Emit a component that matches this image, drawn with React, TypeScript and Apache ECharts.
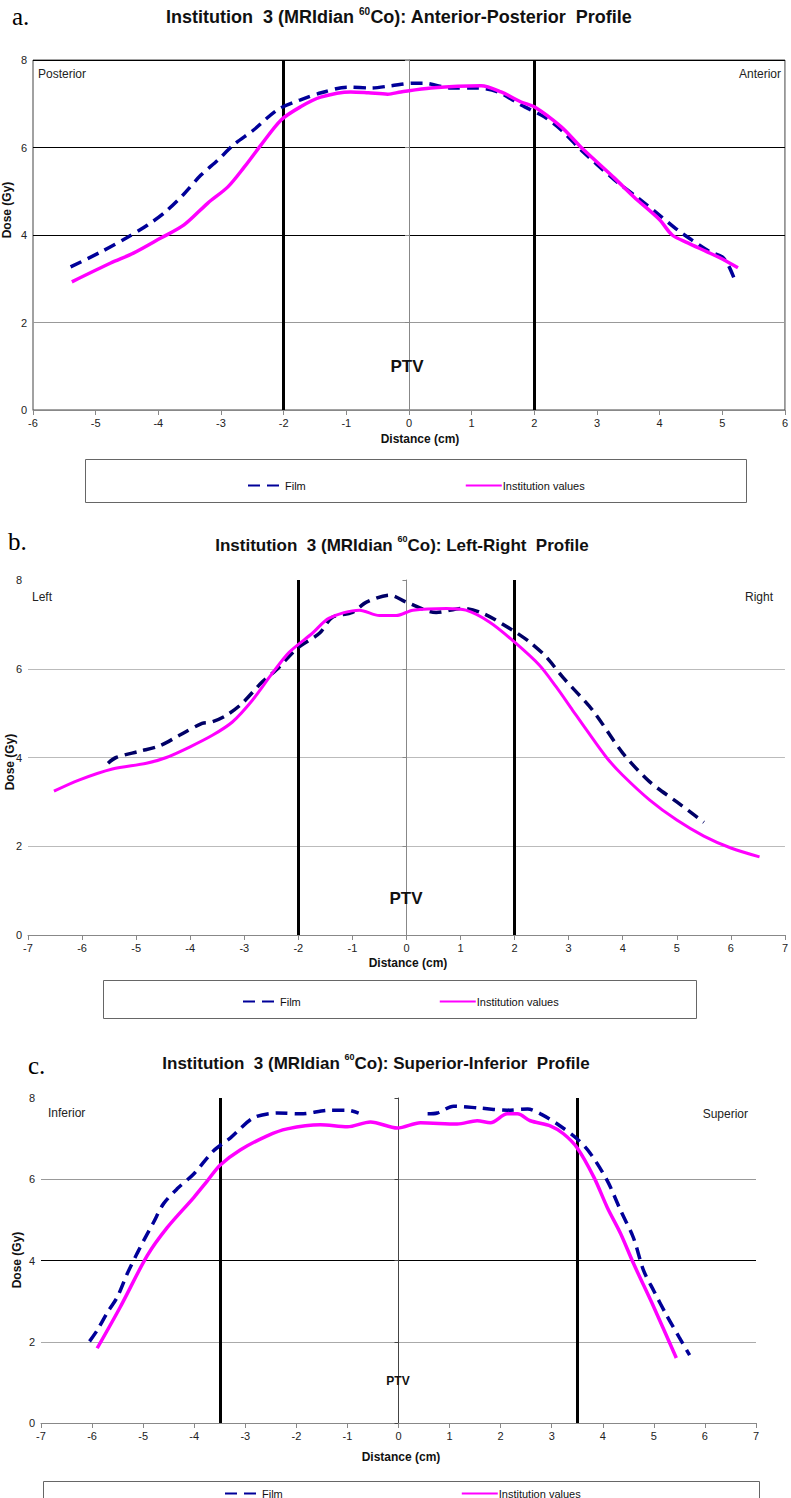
import React, { useEffect, useRef } from "react";
import * as echarts from "echarts";

// ---------- Data (distance in cm, dose in Gy) ----------
const apFilm: [number, number][] = [
  [-5.4, 3.27], [-4.92, 3.61], [-4.49, 3.95], [-4.17, 4.23], [-3.91, 4.5], [-3.61, 4.91],
  [-3.32, 5.37], [-3.05, 5.71], [-2.8, 6.06], [-2.48, 6.4], [-2.1, 6.86], [-1.73, 7.09],
  [-1.4, 7.25], [-0.98, 7.38], [-0.6, 7.36], [-0.29, 7.41], [0.08, 7.47], [0.24, 7.47],
  [0.67, 7.36], [1.1, 7.36], [1.42, 7.27], [1.79, 6.97], [2.16, 6.7], [2.43, 6.4],
  [2.75, 5.94], [3.28, 5.26], [3.66, 4.84], [4.0, 4.45], [4.3, 4.1], [4.5, 3.9],
  [4.8, 3.62], [5.0, 3.5], [5.1, 3.3], [5.2, 2.97],
];
const apInst: [number, number][] = [
  [-5.38, 2.93], [-4.76, 3.36], [-4.39, 3.59], [-3.96, 3.93], [-3.59, 4.23], [-3.21, 4.73],
  [-2.89, 5.1], [-2.63, 5.55], [-2.36, 6.06], [-2.04, 6.63], [-1.73, 6.93], [-1.41, 7.15],
  [-0.93, 7.27], [-0.65, 7.25], [-0.34, 7.22], [-0.13, 7.27], [0.35, 7.36], [1.15, 7.41],
  [1.47, 7.27], [1.79, 7.04], [2.0, 6.93], [2.43, 6.47], [2.75, 6.0], [3.28, 5.3],
  [3.59, 4.87], [4.0, 4.35], [4.2, 4.0], [4.45, 3.82], [4.75, 3.62], [5.0, 3.45], [5.25, 3.25],
];
const lrFilm: [number, number][] = [
  [-5.52, 3.87], [-5.37, 4.0], [-4.94, 4.14], [-4.57, 4.26], [-4.2, 4.5], [-3.78, 4.77],
  [-3.6, 4.8], [-3.33, 4.95], [-3.04, 5.22], [-2.67, 5.7], [-2.41, 5.97], [-2.02, 6.46],
  [-1.61, 6.8], [-1.37, 7.16], [-1.0, 7.27], [-0.74, 7.5], [-0.31, 7.66], [0.0, 7.5],
  [0.55, 7.27], [1.04, 7.36], [1.41, 7.25], [1.96, 6.87], [2.28, 6.6], [2.59, 6.26],
  [2.89, 5.81], [3.44, 5.07], [4.0, 4.1], [4.5, 3.45], [5.0, 3.0], [5.5, 2.54],
];
const lrInst: [number, number][] = [
  [-6.52, 3.24], [-6.06, 3.49], [-5.44, 3.74], [-4.81, 3.87], [-4.44, 4.0], [-4.02, 4.23],
  [-3.59, 4.5], [-3.22, 4.8], [-2.85, 5.29], [-2.48, 5.9], [-2.17, 6.37], [-1.74, 6.8],
  [-1.43, 7.14], [-0.87, 7.32], [-0.5, 7.2], [-0.19, 7.2], [0.12, 7.32], [0.74, 7.36],
  [1.1, 7.32], [1.54, 7.05], [2.0, 6.6], [2.46, 6.08], [2.77, 5.59], [3.07, 5.07],
  [3.33, 4.62], [3.7, 4.0], [4.0, 3.6], [4.5, 3.04], [5.0, 2.59], [5.5, 2.23],
  [6.0, 1.96], [6.53, 1.76],
];
const siFilm: ([number, number] | null)[] = [
  [-6.05, 2.01], [-5.9, 2.28], [-5.7, 2.72], [-5.51, 3.09], [-5.31, 3.68], [-5.12, 4.17],
  [-4.99, 4.49], [-4.8, 4.93], [-4.6, 5.4], [-4.33, 5.77], [-4.01, 6.13], [-3.62, 6.7],
  [-3.29, 7.02], [-2.84, 7.51], [-2.37, 7.63], [-1.92, 7.61], [-1.33, 7.7], [-1.0, 7.7],
  [-0.78, 7.63], null, [0.57, 7.61], [0.76, 7.63], [1.08, 7.8], [1.6, 7.75], [2.13, 7.7],
  [2.53, 7.73], [2.78, 7.61], [3.11, 7.36], [3.5, 6.99], [3.76, 6.63], [4.09, 5.96],
  [4.35, 5.23], [4.6, 4.56], [4.8, 3.75], [5.0, 3.25], [5.25, 2.65], [5.5, 2.1], [5.7, 1.67],
];
const siInst: [number, number][] = [
  [-5.9, 1.84], [-5.45, 2.85], [-4.92, 4.12], [-4.53, 4.81], [-4.01, 5.55], [-3.75, 5.95],
  [-3.49, 6.35], [-3.1, 6.72], [-2.57, 7.07], [-2.18, 7.24], [-1.53, 7.34], [-1.0, 7.29],
  [-0.55, 7.41], [-0.02, 7.26], [0.43, 7.39], [1.15, 7.36], [1.54, 7.44], [1.8, 7.39],
  [2.13, 7.61], [2.33, 7.61], [2.58, 7.44], [2.98, 7.31], [3.23, 7.12], [3.5, 6.77],
  [3.83, 6.04], [4.09, 5.3], [4.35, 4.66], [4.6, 3.93], [5.0, 2.85], [5.44, 1.6],
];

const seriesNames = ["Film", "Institution values"];
const panelTitles = ["Anterior-Posterior", "Left-Right", "Superior-Inferior"];
const panelLetters = ["a.", "b.", "c."];
const sideLabels = [["Posterior", "Anterior"], ["Left", "Right"], ["Inferior", "Superior"]];
const ptvEdges = [[-2, 2], [-2, 2], [-3.5, 3.5]];
const xRanges = [[-6, 6], [-7, 7], [-7, 7]];
const yTicks = { min: 0, max: 8, interval: 2 };

const SANS = "'Liberation Sans', Arial, Helvetica, sans-serif";
const SERIF = "'Liberation Serif', 'Times New Roman', serif";

export default function App() {
  const ref = useRef<HTMLDivElement>(null);
  useEffect(() => {
    if (!ref.current) return;
    const chart = echarts.init(ref.current, null, { renderer: "svg" });

    const grids = [
      { left: 33, top: 60, width: 752, height: 350, show: true, borderColor: "#444", borderWidth: 1, backgroundColor: "transparent" },
      { left: 28, top: 580, width: 757, height: 355 },
      { left: 41, top: 1098, width: 715, height: 325 },
    ];
    const splitColors = [
      ["#888", "#999", "#000", "#000", "#000"],
      ["#888", "#bbb", "#bbb", "#bbb", "rgba(0,0,0,0)"],
      ["#888", "#aaa", "#000", "#999", "rgba(0,0,0,0)"],
    ];
    const yAxisColors = ["#888", "#888", "#444"];

    const xAxes = xRanges.map((r, i) => ({
      type: "value",
      gridIndex: i,
      min: r[0],
      max: r[1],
      interval: 1,
      axisLine: { show: true, onZero: true, lineStyle: { color: "#888", width: 1 } },
      axisTick: { show: true, length: 5, lineStyle: { color: "#888" } },
      axisLabel: { fontSize: 11, color: "#222", margin: 7, fontFamily: SANS },
      splitLine: { show: false },
    }));
    const yAxes = [0, 1, 2].map((i) => ({
      type: "value",
      gridIndex: i,
      min: yTicks.min,
      max: yTicks.max,
      interval: yTicks.interval,
      axisLine: { show: true, onZero: true, lineStyle: { color: yAxisColors[i], width: 1 } },
      axisTick: { show: true, length: 4, lineStyle: { color: yAxisColors[i] } },
      axisLabel: { fontSize: 11, color: "#222", margin: 6, fontFamily: SANS, hideOverlap: false },
      splitLine: { show: true, lineStyle: { color: splitColors[i], width: 1 } },
    }));

    const filmData = [apFilm, lrFilm, siFilm];
    const instData = [apInst, lrInst, siInst];
    const filmColors = ["#000099", "#000066", "#000099"];
    const series: any[] = [];
    [0, 1, 2].forEach((i) => {
      series.push({
        type: "line",
        name: seriesNames[0],
        xAxisIndex: i,
        yAxisIndex: i,
        data: filmData[i],
        symbol: "none",
        smooth: 0.3,
        connectNulls: false,
        color: filmColors[i],
        lineStyle: { color: filmColors[i], width: 3.5, type: [12, 7] },
        z: 3,
        markLine: {
          silent: true,
          symbol: ["none", "none"],
          label: { show: false },
          lineStyle: { color: "#000", width: 3, type: "solid" },
          data: ptvEdges[i].map((v) => ({ xAxis: v })),
          z: 2,
        },
      });
      series.push({
        type: "line",
        name: seriesNames[1],
        xAxisIndex: i,
        yAxisIndex: i,
        data: instData[i],
        symbol: "none",
        smooth: 0.3,
        color: "#ff00ff",
        lineStyle: { color: "#ff00ff", width: i === 1 ? 3 : 3.5, type: "solid" },
        z: 4,
      });
    });

    const legendPos = [
      { left: 242, top: 475, itemGap: 159 },
      { left: 237, top: 991, itemGap: 138 },
      { left: 219, top: 1483, itemGap: 178 },
    ];
    const legends = legendPos.map((p) => ({
      left: p.left,
      top: p.top,
      itemGap: p.itemGap,
      itemWidth: 36,
      itemHeight: 12,
      selectedMode: false,
      data: seriesNames,
      itemStyle: { color: "rgba(0,0,0,0)", borderColor: "rgba(0,0,0,0)", borderWidth: 0, opacity: 0 },
      textStyle: { fontSize: 11, color: "#111", fontFamily: SANS, padding: [0, 0, 0, -4] },
    }));

    const titleCenters = [
      { x: 399, y: 17, size: 18 },
      { x: 402, y: 545, size: 17 },
      { x: 376, y: 1063, size: 17 },
    ];
    const letterPos = [
      { x: 12, y: 16 },
      { x: 8, y: 541 },
      { x: 28, y: 1065 },
    ];
    const sidePos = [
      { l: [38, 74], r: [781, 74] },
      { l: [32, 597], r: [773, 597] },
      { l: [48, 1113], r: [748, 1114] },
    ];
    const ptvPos = [
      { x: 407, y: 366, size: 17 },
      { x: 406, y: 898, size: 17 },
      { x: 398, y: 1381, size: 12 },
    ];
    const dosePos = [
      { x: 7, y: 210 },
      { x: 10, y: 762 },
      { x: 17, y: 1260 },
    ];
    const distPos = [
      { x: 420, y: 439 },
      { x: 408, y: 963 },
      { x: 401, y: 1457 },
    ];
    const legendBoxes = [
      { x: 85, y: 459, w: 661, h: 43 },
      { x: 103, y: 980, w: 593, h: 38 },
      { x: 43, y: 1481, w: 716, h: 40 },
    ];

    const graphics: any[] = [];
    [0, 1, 2].forEach((i) => {
      graphics.push({
        type: "rect",
        silent: true,
        shape: { x: legendBoxes[i].x + 0.5, y: legendBoxes[i].y + 0.5, width: legendBoxes[i].w, height: legendBoxes[i].h },
        style: { fill: "none", stroke: "#666", lineWidth: 1 },
        z: 0,
      });
      graphics.push({
        type: "text",
        x: letterPos[i].x,
        y: letterPos[i].y,
        style: { text: panelLetters[i], fontSize: 25, fontFamily: SERIF, fill: "#000", align: "left", verticalAlign: "middle" },
      });
      const t = titleCenters[i];
      graphics.push({
        type: "text",
        x: t.x,
        y: t.y,
        style: {
          text: `{b|Institution  3 (MRIdian }{s|60}{b|Co): ${panelTitles[i]}  Profile}`,
          align: "center",
          verticalAlign: "middle",
          fill: "#111",
          rich: {
            b: { fontSize: t.size, fontWeight: "bold", fontFamily: SANS, fill: "#111", lineHeight: t.size + 4 },
            s: { fontSize: Math.round(t.size * 0.55), fontWeight: "bold", fontFamily: SANS, fill: "#111", verticalAlign: "top", lineHeight: 12 },
          },
        },
      });
      graphics.push({
        type: "text",
        x: sidePos[i].l[0],
        y: sidePos[i].l[1],
        style: { text: sideLabels[i][0], fontSize: 12, fontFamily: SANS, fill: "#222", align: "left", verticalAlign: "middle" },
      });
      graphics.push({
        type: "text",
        x: sidePos[i].r[0],
        y: sidePos[i].r[1],
        style: { text: sideLabels[i][1], fontSize: 12, fontFamily: SANS, fill: "#222", align: "right", verticalAlign: "middle" },
      });
      graphics.push({
        type: "text",
        x: ptvPos[i].x,
        y: ptvPos[i].y,
        z: 10,
        style: { text: "PTV", fontSize: ptvPos[i].size, fontWeight: "bold", fontFamily: SANS, fill: "#111", align: "center", verticalAlign: "middle" },
      });
      graphics.push({
        type: "text",
        x: dosePos[i].x,
        y: dosePos[i].y,
        rotation: Math.PI / 2,
        style: { text: "Dose (Gy)", fontSize: 12, fontWeight: "bold", fontFamily: SANS, fill: "#111", align: "center", verticalAlign: "middle" },
      });
      graphics.push({
        type: "text",
        x: distPos[i].x,
        y: distPos[i].y,
        style: { text: "Distance (cm)", fontSize: 12, fontWeight: "bold", fontFamily: SANS, fill: "#111", align: "center", verticalAlign: "middle" },
      });
    });

    chart.setOption({
      animation: false,
      backgroundColor: "#fff",
      grid: grids,
      xAxis: xAxes,
      yAxis: yAxes,
      legend: legends,
      series,
      graphic: { elements: graphics },
    });
    return () => chart.dispose();
  }, []);

  return (
    <div
      ref={ref}
      style={{ position: "absolute", left: 0, top: 0, width: 791, height: 1498 }}
    />
  );
}
